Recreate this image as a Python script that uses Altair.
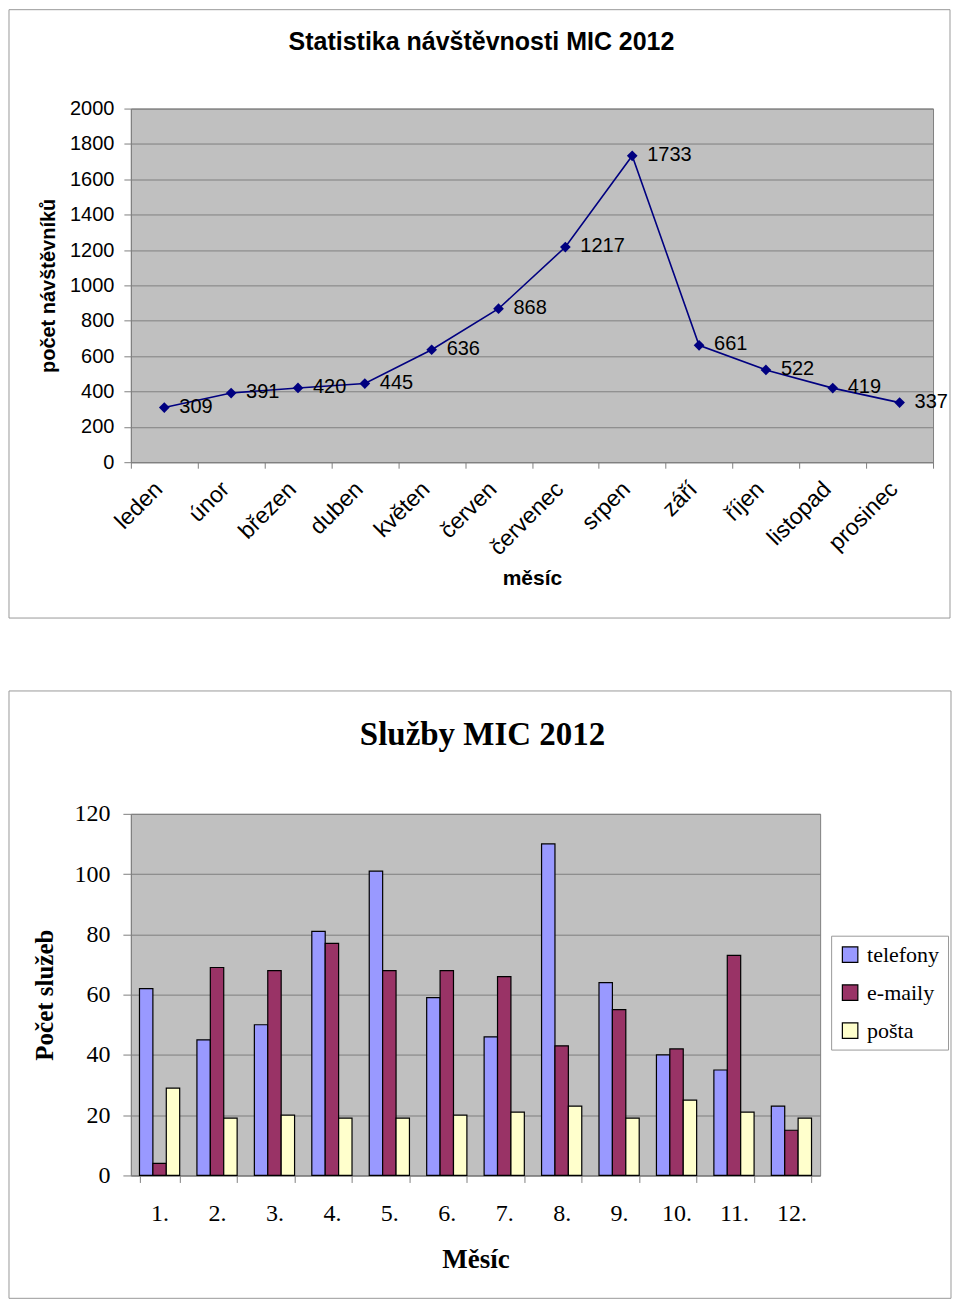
import altair as alt
import pandas as pd

# ---- data: top chart ----
months = ["leden", "únor", "březen", "duben", "květen", "červen",
          "červenec", "srpen", "září", "říjen", "listopad", "prosinec"]
visitors = [309, 391, 420, 445, 636, 868, 1217, 1733, 661, 522, 419, 337]

# ---- data: bottom chart ----
month_nums = ["1.", "2.", "3.", "4.", "5.", "6.", "7.", "8.", "9.", "10.", "11.", "12."]
telefony = [62, 45, 50, 81, 101, 59, 46, 110, 64, 40, 35, 23]
emaily = [4, 69, 68, 77, 68, 68, 66, 43, 55, 42, 73, 15]
posta = [29, 19, 20, 19, 19, 20, 21, 23, 19, 25, 21, 19]
series_names = ["telefony", "e-maily", "pošta"]
series_colors = ["#9999FF", "#993366", "#FFFFCC"]

SANS = "Liberation Sans"
SERIF = "Liberation Serif"
GRID = "#808080"

one = pd.DataFrame({"a": [0]})

# ================= TOP CHART =================
df_top = pd.DataFrame({"month": months, "visitors": visitors})

x_top = alt.X("month:N", sort=months,
              scale=alt.Scale(type="band", paddingInner=0, paddingOuter=0),
              axis=alt.Axis(title="měsíc", labelAngle=-45, labelAlign="right",
                            labelBaseline="middle", labelFont=SANS, labelFontSize=23,
                            labelColor="black", labelPadding=17, labelOffset=-6,
                            titleFont=SANS, titleFontSize=21, titleFontWeight="bold",
                            titleColor="black", titlePadding=8,
                            tickBand="extent", tickColor=GRID, tickSize=6,
                            domainColor=GRID, grid=False))
y_top = alt.Y("visitors:Q", scale=alt.Scale(domain=[0, 2000], nice=False),
              axis=alt.Axis(title="počet návštěvníků", values=list(range(0, 2001, 200)),
                            format="d",
                            labelFont=SANS, labelFontSize=20, labelColor="black",
                            labelPadding=10, tickColor=GRID, tickSize=7,
                            domainColor=GRID, gridColor=GRID, gridOpacity=1,
                            titleFont=SANS, titleFontSize=20, titleFontWeight="bold",
                            titleColor="black", titlePadding=11))

base_top = alt.Chart(df_top).encode(x=x_top, y=y_top)
line = base_top.mark_line(color="#000080", strokeWidth=1.6)
pts = base_top.mark_point(shape="diamond", filled=True, color="#000080", size=115, opacity=1)
lbls = base_top.mark_text(align="left", baseline="middle", dx=15, dy=-1,
                          font=SANS, fontSize=20, color="black").encode(text="visitors:Q")

frame_top = alt.Chart(one).mark_rect(fill=None, stroke="#9a9a9a", strokeWidth=1).encode(
    x=alt.value(-122), x2=alt.value(820), y=alt.value(-99), y2=alt.value(510))
title_top = alt.Chart(one).mark_text(text="Statistika návštěvnosti MIC 2012", font=SANS,
                                     fontSize=25, fontWeight="bold", color="black",
                                     align="center", baseline="middle").encode(
    x=alt.value(351), y=alt.value(-67))

top = alt.layer(frame_top, title_top, line, pts, lbls).properties(width=803, height=354)

# ================= BOTTOM CHART =================
rows = []
for i, m in enumerate(month_nums):
    rows.append({"num": m, "series": "telefony", "value": telefony[i]})
    rows.append({"num": m, "series": "e-maily", "value": emaily[i]})
    rows.append({"num": m, "series": "pošta", "value": posta[i]})
df_bot = pd.DataFrame(rows)

bars = alt.Chart(df_bot).mark_bar(stroke="black", strokeWidth=1.2).encode(
    x=alt.X("num:N", sort=month_nums,
            scale=alt.Scale(paddingInner=0.3, paddingOuter=0.15),
            axis=alt.Axis(title="Měsíc", labelAngle=0, labelFont=SERIF, labelFontSize=24,
                          labelColor="black", labelPadding=19,
                          titleFont=SERIF, titleFontSize=27, titleFontWeight="bold",
                          titleColor="black", titlePadding=21,
                          tickBand="extent", tickColor=GRID, tickSize=7,
                          domainColor=GRID, grid=False)),
    xOffset=alt.XOffset("series:N", sort=series_names),
    y=alt.Y("value:Q", scale=alt.Scale(domain=[0, 120], nice=False),
            axis=alt.Axis(title="Počet služeb", values=list(range(0, 121, 20)),
                          labelFont=SERIF, labelFontSize=24, labelColor="black",
                          labelPadding=13, tickColor=GRID, tickSize=8,
                          domainColor=GRID, gridColor=GRID, gridOpacity=1,
                          titleFont=SERIF, titleFontSize=25, titleFontWeight="bold",
                          titleColor="black", titlePadding=16)),
    color=alt.Color("series:N", sort=series_names,
                    scale=alt.Scale(domain=series_names, range=series_colors),
                    legend=alt.Legend(title=None, orient="none", legendX=701, legendY=122,
                                      fillColor="white", strokeColor="#9a9a9a",
                                      padding=8, rowPadding=16,
                                      symbolType="square", symbolSize=240,
                                      symbolStrokeColor="black", symbolStrokeWidth=1.2,
                                      symbolOpacity=1,
                                      labelFont=SERIF, labelFontSize=22, labelColor="black",
                                      labelOffset=6)),
)

frame_bot = alt.Chart(one).mark_rect(fill=None, stroke="#9a9a9a", strokeWidth=1).encode(
    x=alt.value(-122), x2=alt.value(821), y=alt.value(-123), y2=alt.value(485))
title_bot = alt.Chart(one).mark_text(text="Služby MIC 2012", font=SERIF, fontSize=33,
                                     fontWeight="bold", color="black",
                                     align="center", baseline="middle").encode(
    x=alt.value(352), y=alt.value(-79))

bottom = alt.layer(frame_bot, title_bot, bars).properties(width=690, height=362)

chart = alt.vconcat(top, bottom, spacing=71).resolve_legend(color="independent").properties(
    padding=0).configure_view(stroke=GRID, fill="#C0C0C0", strokeWidth=1)

chart.save("out.html", embed_options={"renderer": "svg", "actions": False})
